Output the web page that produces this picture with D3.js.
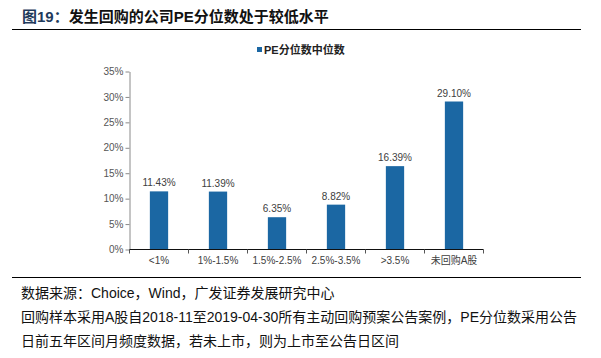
<!DOCTYPE html>
<html><head><meta charset="utf-8">
<script src="https://cdn.jsdelivr.net/npm/d3@7"></script>
<style>
html,body{margin:0;padding:0;background:#fff;}
svg{display:block;}
</style></head>
<body>
<svg id="c" width="601" height="358"></svg>
<script>
const categories = ["<1%", "1%-1.5%", "1.5%-2.5%", "2.5%-3.5%", ">3.5%", "未回购A股"];
const values = [11.43, 11.39, 6.35, 8.82, 16.39, 29.10];
const yTicks = [0, 5, 10, 15, 20, 25, 30, 35];
const seriesName = "PE分位数中位数";
const titlePrefix = "图19：";
const titleText = "发生回购的公司PE分位数处于较低水平";
const footerLines = [
  "数据来源：Choice，Wind，广发证券发展研究中心",
  "回购样本采用A股自2018-11至2019-04-30所有主动回购预案公告案例，PE分位数采用公告",
  "日前五年区间月频度数据，若未上市，则为上市至公告日区间"
];

const svg = d3.select("#c");
const latin = "'Liberation Sans', Arial, 'Noto Sans CJK SC', sans-serif";
const barColor = "#1b67a3";

// title
const t = svg.append("text").attr("x", 22).attr("y", 22)
  .attr("font-family", latin).attr("font-size", 15).attr("font-weight", "bold");
t.append("tspan").attr("fill", "#1f3a5c").text(titlePrefix);
t.append("tspan").attr("fill", "#111").text(titleText);
svg.append("line").attr("x1", 12).attr("x2", 581).attr("y1", 29.5).attr("y2", 29.5)
  .attr("stroke", "#000").attr("stroke-width", 1.2);

// scales
const x = d3.scaleBand().domain(categories).range([129.5, 483.5]).paddingInner(0.69).paddingOuter(0.345);
const y = d3.scaleLinear().domain([0, 35]).range([249.5, 71.5]);

// y axis
const ya = svg.append("g").attr("transform", "translate(129.5,0)")
  .call(d3.axisLeft(y).tickValues(yTicks).tickFormat(d => d + "%").tickSize(4).tickSizeOuter(0));
ya.select(".domain").attr("stroke", "#8a8a8a");
ya.selectAll(".tick line").attr("stroke", "#8a8a8a");
ya.selectAll(".tick text").attr("font-family", latin).attr("font-size", 10).attr("fill", "#555").attr("x", -6);

// bars
svg.append("g").selectAll("rect").data(values).join("rect")
  .attr("x", (d, i) => x(categories[i]))
  .attr("width", x.bandwidth())
  .attr("y", d => y(d))
  .attr("height", d => y(0) - y(d))
  .attr("fill", barColor);

// value labels
svg.append("g").selectAll("text").data(values).join("text")
  .attr("x", (d, i) => x(categories[i]) + x.bandwidth() / 2)
  .attr("y", d => y(d) - 5)
  .attr("text-anchor", "middle")
  .attr("font-family", latin).attr("font-size", 10).attr("fill", "#404040")
  .text(d => d.toFixed(2) + "%");

// x axis
const step = x.step();
svg.append("line").attr("x1", 129.5).attr("x2", 483.5).attr("y1", 249.5).attr("y2", 249.5)
  .attr("stroke", "#111").attr("stroke-width", 1.2);
svg.append("g").selectAll("line").data(d3.range(categories.length + 1)).join("line")
  .attr("x1", i => 129.5 + i * step).attr("x2", i => 129.5 + i * step)
  .attr("y1", 249.5).attr("y2", 253.5).attr("stroke", "#555");
svg.append("g").selectAll("text").data(categories).join("text")
  .attr("x", d => x(d) + x.bandwidth() / 2)
  .attr("y", 263.5)
  .attr("text-anchor", "middle")
  .attr("font-family", latin).attr("font-size", 10).attr("fill", "#404040")
  .text(d => d);

// legend
svg.append("rect").attr("x", 257).attr("y", 47).attr("width", 5).attr("height", 5).attr("fill", barColor);
svg.append("text").attr("x", 264).attr("y", 53.5)
  .attr("font-family", latin).attr("font-size", 11).attr("font-weight", "bold").attr("fill", "#222")
  .text(seriesName);

// footer
svg.append("line").attr("x1", 12).attr("x2", 581).attr("y1", 277.5).attr("y2", 277.5)
  .attr("stroke", "#000").attr("stroke-width", 1.2);
svg.append("g").selectAll("text").data(footerLines).join("text")
  .attr("x", 21).attr("y", (d, i) => 298 + i * 24)
  .attr("font-family", latin).attr("font-size", 14).attr("fill", "#111")
  .text(d => d);
</script>
</body></html>
